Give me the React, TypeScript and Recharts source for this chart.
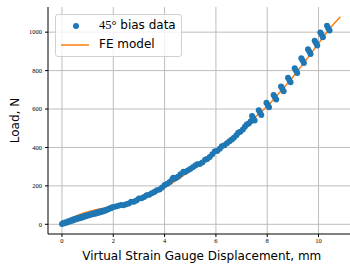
import React from 'react';
import {
  ComposedChart, Line, Scatter, XAxis, YAxis, CartesianGrid, Label,
} from 'recharts';

// Measured (45° bias) data: displacement (mm) and load (N)
const dataDisp = [
  0.0, 0.05, 0.1, 0.15, 0.2, 0.25, 0.3, 0.35, 0.4, 0.45, 0.5, 0.55, 0.6, 0.65, 0.7, 0.75, 0.8, 0.85,
  0.9, 0.95, 1.0, 1.05, 1.1, 1.15, 1.2, 1.25, 1.3, 1.35, 1.4, 1.45, 1.5, 1.55, 1.6, 1.65, 1.7, 1.75,
  1.8, 1.85, 1.9, 1.95, 2.0, 2.1, 2.2,
  2.3, 2.4, 2.5, 2.6, 2.7, 2.8, 2.9, 3.0, 3.1, 3.2, 3.3, 3.4, 3.5, 3.6, 3.7, 3.8, 3.9, 4.0, 4.1,
  4.2, 4.3, 4.34, 4.42, 4.52, 4.62, 4.73, 4.8, 4.9, 5.0, 5.1, 5.2, 5.27, 5.37, 5.47, 5.58, 5.66,
  5.76, 5.86, 5.96, 6.05, 6.15, 6.23, 6.33, 6.43, 6.53, 6.62, 6.7, 6.8, 6.87, 6.95, 7.05, 7.13,
  7.2, 7.28, 7.36,
  7.41, 7.46, 7.51, 7.67, 7.72, 7.77, 7.97, 8.02, 8.07, 8.25, 8.3, 8.35, 8.54, 8.59, 8.64,
  8.81, 8.86, 8.91, 9.07, 9.12, 9.17, 9.33, 9.38, 9.43, 9.59, 9.64, 9.69, 9.85, 9.9, 9.95,
  10.07, 10.12, 10.17, 10.33, 10.38, 10.43,
];
const dataLoad = [
  2, 7, 6, 11, 10, 16, 15, 21, 19, 26, 24, 30, 28, 34, 32, 38, 36, 42,
  40, 46, 44, 50, 48, 54, 52, 57, 55, 61, 59, 65, 63, 69, 67, 72, 72, 76,
  78, 82, 84, 88, 90, 93, 96,
  101, 99, 104, 108, 117, 118, 124, 134, 136, 142, 151, 154, 161, 168, 177, 181, 192, 205, 211,
  220, 234, 242, 240, 248, 260, 274, 272, 280, 288, 297, 306, 312, 314, 322, 336, 340,
  350, 364, 380, 382, 393, 406, 412, 422, 432, 442, 450, 464, 476, 482, 494, 508,
  519, 524, 536,
  564, 552, 540, 593, 581, 569, 633, 621, 609, 673, 661, 649, 717, 705, 693,
  763, 751, 739, 812, 800, 788, 864, 852, 840, 911, 899, 887, 955, 943, 931,
  998, 986, 974, 1033, 1021, 1009,
];

// FE model curve
const feDisp = [0, 0.25, 0.5, 0.75, 1, 1.25, 1.5, 1.75, 2, 2.5, 3, 3.5, 4, 4.5, 5, 5.5, 6, 6.5, 7, 7.5, 8, 8.5, 9, 9.5, 10, 10.5, 10.85];
const feLoad = [0, 22, 40, 54, 64, 73, 81, 88, 94, 107, 125, 153, 190, 232, 280, 328, 376, 435, 497, 555, 614, 688, 767, 852, 942, 1028, 1080];

const xTicks = [0, 2, 4, 6, 8, 10];
const yTicks = [0, 200, 400, 600, 800, 1000];

const scatterData = dataDisp.map((x, i) => ({ x, y: dataLoad[i] }));
const feData = feDisp.map((x, i) => ({ x, y: feLoad[i] }));

const BLUE = '#1f77b4';
const ORANGE = '#ff7f0e';
const SANS = '"DejaVu Sans", sans-serif';
const SERIF = '"Liberation Serif", "DejaVu Serif", serif';

const Dot = (props: any) => <circle cx={props.cx} cy={props.cy} r={3} fill={BLUE} />;

const LegendBox = () => (
  <div
    style={{
      position: 'absolute',
      left: 55,
      top: 14,
      width: 125,
      height: 41,
      border: '1px solid #d0d0d0',
      borderRadius: 3,
      background: 'rgba(255,255,255,0.8)',
      fontFamily: SANS,
      fontSize: 12,
      color: '#000',
      boxSizing: 'content-box',
    }}
  >
    <svg width={40} height={41} style={{ position: 'absolute', left: 0, top: 0 }}>
      <circle cx={20} cy={11} r={3} fill={BLUE} />
      <line x1={5} x2={33} y1={30} y2={30} stroke={ORANGE} strokeWidth={1.5} />
    </svg>
    <div style={{ position: 'absolute', left: 43, top: 3, whiteSpace: 'nowrap', lineHeight: '14px' }}>
      <span style={{ fontFamily: SERIF, fontSize: 12.5 }}>45°</span> bias data
    </div>
    <div style={{ position: 'absolute', left: 43, top: 22, whiteSpace: 'nowrap', lineHeight: '14px' }}>
      FE model
    </div>
  </div>
);

export default function App() {
  return (
    <div style={{ position: 'absolute', left: 0, top: 0, width: 350, height: 264, overflow: 'hidden', background: '#fff' }}>
      <ComposedChart width={360} height={264} margin={{ top: 7, right: 4.4, bottom: 0, left: 0 }}>
        <CartesianGrid
          xAxisId="main"
          yAxisId="main"
          stroke="#bdbdbd"
          strokeWidth={1}
          horizontalValues={yTicks}
          verticalValues={xTicks}
        />
        <XAxis
          xAxisId="main"
          type="number"
          dataKey="x"
          domain={[-0.545, 11.445]}
          ticks={xTicks}
          allowDataOverflow
          height={30}
          tickSize={3}
          tickMargin={1}
          axisLine={{ stroke: '#000', strokeWidth: 1 }}
          tickLine={{ stroke: '#000' }}
          tick={{ fontFamily: SERIF, fontSize: 6.5, fill: '#000' }}
        >
          <Label
            value="Virtual Strain Gauge Displacement, mm"
            position="insideBottom"
            offset={4}
            style={{ fontFamily: SANS, fontSize: 12, fill: '#000' }}
          />
        </XAxis>
        <XAxis
          xAxisId="top"
          orientation="top"
          type="number"
          domain={[-0.545, 11.445]}
          height={0}
          tick={false}
          tickLine={false}
          axisLine={{ stroke: '#000', strokeWidth: 1 }}
        />
        <YAxis
          yAxisId="main"
          type="number"
          domain={[-50.5, 1131]}
          ticks={yTicks}
          allowDataOverflow
          width={48}
          tickSize={3}
          tickMargin={3}
          axisLine={{ stroke: '#000', strokeWidth: 1 }}
          tickLine={{ stroke: '#000' }}
          tick={{ fontFamily: SERIF, fontSize: 6.5, fill: '#000' }}
        >
          <Label
            content={() => (
              <text
                x={18.5}
                y={120.5}
                transform="rotate(-90, 18.5, 120.5)"
                textAnchor="middle"
                style={{ fontFamily: SANS, fontSize: 12, fill: '#000' }}
              >
                Load, N
              </text>
            )}
          />
        </YAxis>
        <Scatter
          xAxisId="main"
          yAxisId="main"
          data={scatterData}
          dataKey="y"
          shape={Dot}
          isAnimationActive={false}
        />
        <Line
          xAxisId="main"
          yAxisId="main"
          data={feData}
          dataKey="y"
          type="monotone"
          stroke={ORANGE}
          strokeWidth={1.5}
          dot={false}
          activeDot={false}
          isAnimationActive={false}
        />
      </ComposedChart>
      <LegendBox />
    </div>
  );
}
